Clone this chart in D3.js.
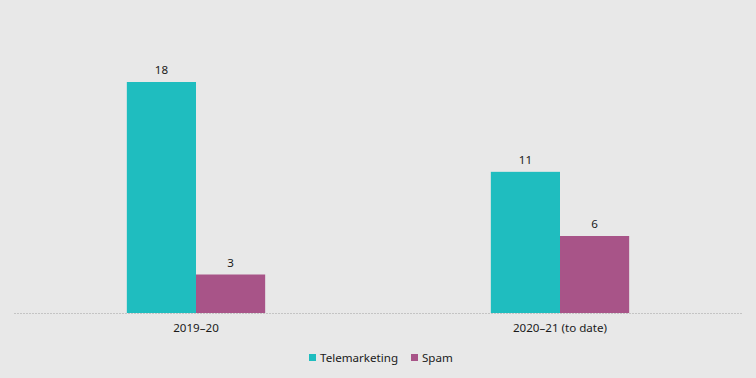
<!DOCTYPE html>
<html lang="en">
<head>
  <meta charset="utf-8">
  <title>Complaints</title>
  <script src="https://d3js.org/d3.v7.min.js"></script>
  <style>
    body { margin: 0; background: #e8e8e8; }
    .chart text { font: 11.6px "Noto Sans", "Open Sans", sans-serif; fill: #1a1a1a; }
  </style>
</head>
<body>
  <div class="chart" id="chart"></div>
  <script>
    "use strict"

    var periodos = ["2019–20", "2020–21 (to date)"];
    var series = ["Telemarketing", "Spam"];
    var telemarketing = [18, 11];
    var spam = [3, 6];
    var cores = ["#1fbdbf", "#a85488"];

    var largura = 756, altura = 378;
    var margem = {top: 82, bottom: 65, left: 14, right: 14};
    var base = altura - margem.bottom;

    var svg = d3.select("#chart").append("svg")
      .attr("width", largura)
      .attr("height", altura);

    svg.append("rect").attr("width", largura).attr("height", altura).attr("fill", "#e8e8e8");

    var x = d3.scaleBand().domain(periodos).range([margem.left, largura - margem.right]);
    var xs = d3.scaleBand().domain(series)
      .range([0, x.bandwidth() * 0.38])
    var y = d3.scaleLinear().domain([0, 18]).range([base, margem.top]);

    var valores = [telemarketing, spam];
    var dados = [];
    periodos.forEach(function(p, i) {
      series.forEach(function(s, j) {
        dados.push({periodo: p, serie: s, valor: valores[j][i], cor: cores[j]});
      });
    });

    var offset = (x.bandwidth() - xs.range()[1]) / 2;

    svg.selectAll("rect.bar").data(dados).enter().append("rect")
      .attr("class", "bar")
      .attr("x", d => x(d.periodo) + offset + xs(d.serie))
      .attr("width", xs.bandwidth())
      .attr("y", d => y(d.valor))
      .attr("height", d => base - y(d.valor))
      .attr("fill", d => d.cor);

    svg.selectAll("text.val").data(dados).enter().append("text")
      .attr("class", "val")
      .attr("x", d => x(d.periodo) + offset + xs(d.serie) + xs.bandwidth() / 2)
      .attr("y", d => y(d.valor) - 8)
      .attr("text-anchor", "middle")
      .text(d => d.valor);

    // eixo x
    svg.append("line")
      .attr("x1", margem.left).attr("x2", largura - margem.right)
      .attr("y1", base + 0.5).attr("y2", base + 0.5)
      .attr("stroke", "#c4c4c4")
      .attr("stroke-dasharray", "2,1");

    svg.selectAll("text.cat").data(periodos).enter().append("text")
      .attr("class", "cat")
      .attr("x", d => x(d) + x.bandwidth() / 2)
      .attr("y", base + 19)
      .attr("text-anchor", "middle")
      .text(d => d);

    // legenda
    var legX = [309, 411];
    var leg = svg.selectAll("g.leg").data(series).enter().append("g")
      .attr("class", "leg")
      .attr("transform", (d, i) => "translate(" + legX[i] + ",354)");
    leg.append("rect").attr("width", 7).attr("height", 7).attr("fill", (d, i) => cores[i]);
    leg.append("text").attr("x", 11).attr("y", 7.5).text(d => d);
  </script>
</body>
</html>
